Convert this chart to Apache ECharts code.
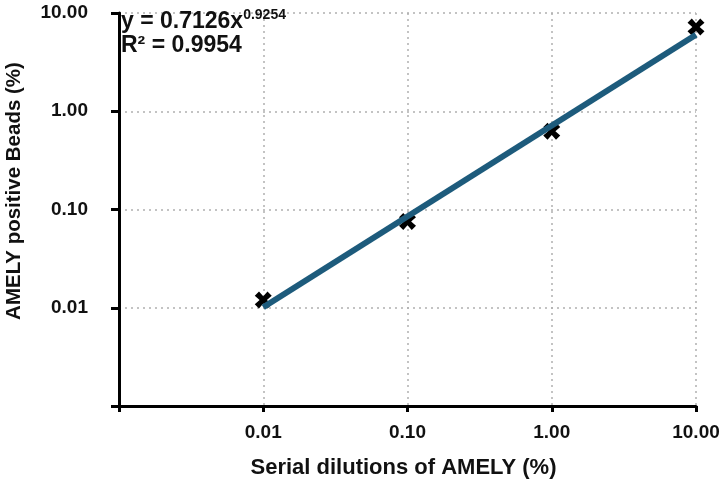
<!DOCTYPE html>
<html>
<head>
<meta charset="utf-8">
<script src="https://cdn.jsdelivr.net/npm/echarts@6/dist/echarts.min.js"></script>
<style>html,body{margin:0;padding:0;background:#fff}#c{width:725px;height:484px}</style>
</head>
<body>
<div id="c"></div>
<script>
const dilutions = [0.01, 0.1, 1, 10];
const positiveBeads = [0.0120, 0.0755, 0.626, 7.2];
const trendX = [0.01, 10];
const trendY = [0.0101, 6.0];
const xTickLabels = ['0.01', '0.10', '1.00', '10.00'];
const yTickLabels = ['0.01', '0.10', '1.00', '10.00'];
const xTitle = 'Serial dilutions of AMELY (%)';
const yTitle = 'AMELY positive Beads (%)';
const equationText = 'y = 0.7126x';
const exponentText = '0.9254';
const r2Text = 'R² = 0.9954';

const FONT = '"Liberation Sans", Arial, Helvetica, sans-serif';
const chart = echarts.init(document.getElementById('c'));

function fmt(v, labels) {
  const idx = dilutions.findIndex(d => Math.abs(d - v) / d < 1e-6);
  return idx >= 0 ? labels[idx] : '';
}

const X_PATH = 'path://M-3.5,-7 L0,-3 L3.5,-7 L7,-3.5 L3,0 L7,3.5 L3.5,7 L0,3 L-3.5,7 L-7,3.5 L-3,0 L-7,-3.5 Z';

chart.setOption({
  backgroundColor: '#fff',
  animation: false,
  grid: { left: 119, right: 29, top: 13, bottom: 76, containLabel: false },
  xAxis: {
    type: 'log', min: 0.001, max: 10, logBase: 10,
    name: xTitle, nameLocation: 'middle', nameGap: 51,
    nameTextStyle: { fontFamily: FONT, fontWeight: 'bold', fontSize: 22, color: '#111', padding: [0, 8, 0, 0] },
    axisLine: { onZero: false, lineStyle: { color: '#000', width: 3 } },
    axisTick: { show: true, length: 6, lineStyle: { color: '#000', width: 3 } },
    axisLabel: { margin: 17, fontFamily: FONT, fontWeight: 'bold', fontSize: 19, color: '#111',
      formatter: v => fmt(v, xTickLabels) },
    splitLine: { show: true, lineStyle: { color: '#b0b0b0', type: [2, 4], width: 1.5 } },
    minorTick: { show: false }
  },
  yAxis: {
    type: 'log', min: 0.001, max: 10, logBase: 10,
    axisLine: { onZero: false, lineStyle: { color: '#000', width: 3 } },
    axisTick: { show: true, length: 8, lineStyle: { color: '#000', width: 3 } },
    axisLabel: { margin: 31, fontFamily: FONT, fontWeight: 'bold', fontSize: 19, color: '#111',
      formatter: v => fmt(v, yTickLabels) },
    splitLine: { show: true, lineStyle: { color: '#b0b0b0', type: [2, 4], width: 1.5 } }
  },
  series: [
    {
      type: 'scatter',
      data: dilutions.map((d, i) => [d, positiveBeads[i]]),
      symbol: X_PATH, symbolSize: 17,
      itemStyle: { color: '#000', opacity: 1 },
      z: 2
    },
    {
      type: 'line',
      data: trendX.map((d, i) => [d, trendY[i]]),
      showSymbol: false, symbol: 'none',
      lineStyle: { color: '#1d5b7c', width: 6, cap: 'butt', opacity: 1 },
      z: 3
    }
  ],
  graphic: [
    {
      type: 'text', x: 14, y: 191, rotation: Math.PI / 2,
      style: {
        text: yTitle, align: 'center', verticalAlign: 'middle',
        fontFamily: FONT, fontWeight: 'bold', fontSize: 20.5, fill: '#111'
      }
    },
    {
      type: 'text', left: 121, top: 8,
      style: {
        text: '{a|' + equationText + '}{s|' + exponentText + '}\n{a|' + r2Text + '}',
        rich: {
          a: { fontFamily: FONT, fontWeight: 'bold', fontSize: 23, fill: '#111', lineHeight: 24 },
          s: { fontFamily: FONT, fontWeight: 'bold', fontSize: 14, fill: '#111', lineHeight: 24, padding: [0, 0, 14, 0] }
        }
      },
      z: 10
    }
  ]
});
</script>
</body>
</html>
